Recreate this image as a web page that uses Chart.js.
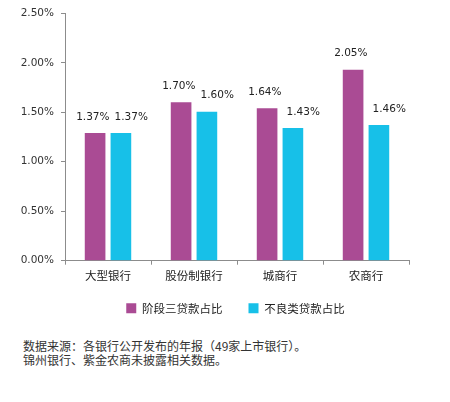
<!DOCTYPE html>
<html>
<head>
<meta charset="utf-8">
<script src="https://cdn.jsdelivr.net/npm/chart.js@4.4.1/dist/chart.umd.min.js"></script>
<style>
  html, body { margin: 0; padding: 0; background: #fff; }
  #wrap { position: relative; width: 450px; height: 402px; }
  #note {
    position: absolute; left: 23px; top: 339px;
    font-family: "Noto Sans CJK SC", sans-serif; font-size: 12px;
    line-height: 14px; color: #333;
  }
</style>
</head>
<body>
<div id="wrap">
  <canvas id="chart" width="450" height="335"></canvas>
  <div id="note">数据来源：各银行公开发布的年报（49家上市银行）。<br>锦州银行、紫金农商未披露相关数据。</div>
</div>
<script>
const categories = ['大型银行', '股份制银行', '城商行', '农商行'];
const seriesNames = ['阶段三贷款占比', '不良类贷款占比'];
// bar heights
const stage3Values = [1.29, 1.60, 1.54, 1.93];
const nplValues = [1.29, 1.505, 1.34, 1.37];
// printed labels above the bars
const stage3Labels = ['1.37%', '1.70%', '1.64%', '2.05%'];
const nplLabels = ['1.37%', '1.60%', '1.43%', '1.46%'];
const yTicks = [0, 0.5, 1, 1.5, 2, 2.5];

const barLabels = {
  id: 'barLabels',
  afterDatasetsDraw(chart) {
    const ctx = chart.ctx;
    const a = chart.getDatasetMeta(0).data;
    const b = chart.getDatasetMeta(1).data;
    ctx.save();
    ctx.font = '10.5px "DejaVu Sans"';
    ctx.fillStyle = '#222';
    ctx.textAlign = 'center';
    ctx.textBaseline = 'bottom';
    categories.forEach((c, j) => {
      let xa = a[j].x + 4, xb = b[j].x + 4;
      const wa = ctx.measureText(stage3Labels[j]).width;
      const wb = ctx.measureText(nplLabels[j]).width;
      // pull the pair apart when they would overlap
      const need = (wa + wb) / 2 + 5 - (xb - xa);
      if (need > 0) { xa -= need / 2; xb += need / 2; }
      ctx.fillText(stage3Labels[j], xa, a[j].y - 11);
      ctx.fillText(nplLabels[j], xb, b[j].y - 11);
    });
    ctx.restore();
  }
};

// nudge the legend to where it sits in the original
const legendShift = {
  id: 'legendShift',
  afterLayout(chart) {
    const lg = chart.legend;
    lg.left += 31; lg.right += 31;
    lg.top -= 11; lg.bottom -= 11;
  }
};

const ctx = document.getElementById('chart').getContext('2d');
new Chart(ctx, {
  type: 'bar',
  data: {
    labels: categories,
    datasets: [{
      label: seriesNames[0],
      data: stage3Values,
      backgroundColor: '#AA4B94',
      barPercentage: 0.8,
      categoryPercentage: 0.6
    }, {
      label: seriesNames[1],
      data: nplValues,
      backgroundColor: '#17C0E8',
      barPercentage: 0.8,
      categoryPercentage: 0.6
    }]
  },
  options: {
    responsive: false,
    animation: false,
    layout: { padding: { left: 0, right: 41, top: 6, bottom: 0 } },
    plugins: {
      tooltip: { enabled: false },
      legend: {
        position: 'bottom',
        labels: {
          boxWidth: 10,
          boxHeight: 10,
          padding: 26,
          color: '#222',
          font: { family: '"Noto Sans CJK SC"', size: 11.5 }
        }
      }
    },
    scales: {
      y: {
        min: 0,
        max: 2.5,
        afterFit(scale) { scale.width = 65; },
        afterBuildTicks(scale) { scale.ticks = yTicks.map(v => ({ value: v })); },
        border: { color: '#8c8c8c' },
        grid: { drawOnChartArea: false, drawTicks: true, tickLength: 4, color: '#8c8c8c' },
        ticks: {
          padding: 7,
          color: '#333',
          font: { family: '"DejaVu Sans"', size: 10.5 },
          callback: v => v.toFixed(2) + '%'
        }
      },
      x: {
        border: { color: '#8c8c8c' },
        grid: { drawOnChartArea: false, drawTicks: true, tickLength: 4, color: '#8c8c8c' },
        ticks: {
          padding: 4.5,
          color: '#222',
          font: { family: '"Noto Sans CJK SC"', size: 11.5 }
        }
      }
    }
  },
  plugins: [barLabels, legendShift]
});
</script>
</body>
</html>
